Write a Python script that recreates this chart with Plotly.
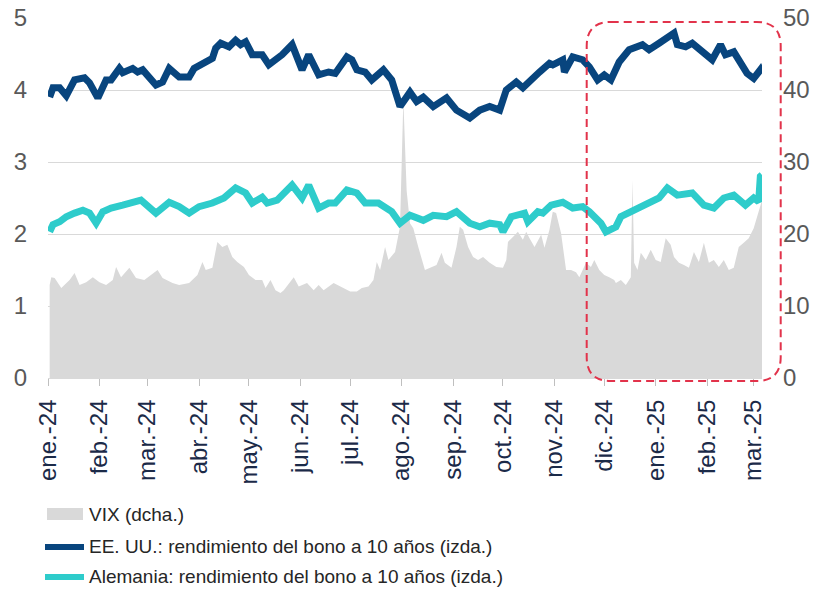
import plotly.graph_objects as go

# ---------------- data ----------------
us_dates = [
    "2024-01-02", "2024-01-04", "2024-01-08", "2024-01-12", "2024-01-17", "2024-01-23",
    "2024-01-26", "2024-01-31", "2024-02-05", "2024-02-08", "2024-02-13", "2024-02-15",
    "2024-02-21", "2024-02-24", "2024-02-27", "2024-03-06", "2024-03-10", "2024-03-14",
    "2024-03-20", "2024-03-26", "2024-03-29", "2024-04-03", "2024-04-09", "2024-04-11",
    "2024-04-14", "2024-04-19", "2024-04-23", "2024-04-26", "2024-04-29", "2024-05-03",
    "2024-05-09", "2024-05-13", "2024-05-17", "2024-05-21", "2024-05-27", "2024-06-02",
    "2024-06-06", "2024-06-12", "2024-06-18", "2024-06-22", "2024-06-29", "2024-07-02",
    "2024-07-05", "2024-07-10", "2024-07-14", "2024-07-18", "2024-07-21", "2024-07-26",
    "2024-07-31", "2024-08-06", "2024-08-10", "2024-08-14", "2024-08-20", "2024-08-28",
    "2024-09-03", "2024-09-11", "2024-09-17", "2024-09-23", "2024-09-29", "2024-10-03",
    "2024-10-09", "2024-10-13", "2024-10-19", "2024-10-23", "2024-10-29", "2024-10-31",
    "2024-11-06", "2024-11-07", "2024-11-12", "2024-11-18", "2024-11-22", "2024-11-27",
    "2024-12-01", "2024-12-05", "2024-12-10", "2024-12-16", "2024-12-24", "2024-12-28",
    "2025-01-03", "2025-01-08", "2025-01-12", "2025-01-14", "2025-01-19", "2025-01-23",
    "2025-01-29", "2025-02-04", "2025-02-09", "2025-02-12", "2025-02-17", "2025-02-21",
    "2025-02-25", "2025-03-01", "2025-03-05", "2025-03-06",
]
us_yield = [
    3.90, 4.03, 4.03, 3.92, 4.14, 4.17,
    4.10, 3.89, 4.14, 4.14, 4.30, 4.24,
    4.30, 4.25, 4.28, 4.07, 4.11, 4.30,
    4.18, 4.18, 4.30, 4.37, 4.44, 4.58,
    4.65, 4.60, 4.69, 4.63, 4.67, 4.49,
    4.49, 4.35, 4.42, 4.49, 4.63, 4.28,
    4.49, 4.21, 4.25, 4.23, 4.46, 4.42,
    4.28, 4.25, 4.14, 4.23, 4.28, 4.14,
    3.77, 3.97, 3.84, 3.90, 3.77, 3.89,
    3.72, 3.61, 3.72, 3.77, 3.72, 4.00,
    4.11, 4.03, 4.18, 4.25, 4.37, 4.35,
    4.42, 4.25, 4.46, 4.42, 4.32, 4.14,
    4.21, 4.14, 4.39, 4.56, 4.63, 4.56,
    4.65, 4.74, 4.79, 4.63, 4.60, 4.65,
    4.53, 4.42, 4.63, 4.49, 4.53, 4.39,
    4.23, 4.16, 4.28, 4.23,
]

de_dates = [
    "2024-01-02", "2024-01-04", "2024-01-08", "2024-01-12", "2024-01-17", "2024-01-22",
    "2024-01-26", "2024-01-30", "2024-02-03", "2024-02-08", "2024-02-15", "2024-02-20",
    "2024-02-26", "2024-03-06", "2024-03-14", "2024-03-20", "2024-03-26", "2024-04-01",
    "2024-04-09", "2024-04-16", "2024-04-23", "2024-04-29", "2024-05-03", "2024-05-09",
    "2024-05-12", "2024-05-18", "2024-05-21", "2024-05-27", "2024-06-02", "2024-06-06",
    "2024-06-12", "2024-06-18", "2024-06-22", "2024-06-29", "2024-07-05", "2024-07-10",
    "2024-07-18", "2024-07-26", "2024-07-31", "2024-08-06", "2024-08-14", "2024-08-20",
    "2024-08-28", "2024-09-03", "2024-09-11", "2024-09-17", "2024-09-23", "2024-09-29",
    "2024-10-01", "2024-10-06", "2024-10-14", "2024-10-16", "2024-10-22", "2024-10-25",
    "2024-10-30", "2024-11-06", "2024-11-12", "2024-11-18", "2024-11-22", "2024-11-29",
    "2024-12-02", "2024-12-08", "2024-12-11", "2024-12-19", "2024-12-25", "2024-12-30",
    "2025-01-03", "2025-01-08", "2025-01-14", "2025-01-23", "2025-01-30", "2025-02-05",
    "2025-02-11", "2025-02-17", "2025-02-24", "2025-03-01", "2025-03-04", "2025-03-05",
    "2025-03-06",
]
de_yield = [
    2.03, 2.13, 2.17, 2.24, 2.29, 2.33,
    2.29, 2.15, 2.31, 2.36, 2.40, 2.43,
    2.47, 2.29, 2.44, 2.38, 2.29, 2.38,
    2.43, 2.50, 2.64, 2.57, 2.43, 2.51,
    2.43, 2.47, 2.54, 2.68, 2.50, 2.68,
    2.36, 2.43, 2.43, 2.61, 2.57, 2.43,
    2.43, 2.31, 2.15, 2.26, 2.19, 2.26,
    2.24, 2.31, 2.15, 2.10, 2.15, 2.13,
    2.03, 2.24, 2.29, 2.17, 2.31, 2.29,
    2.40, 2.44, 2.36, 2.38, 2.31, 2.15,
    2.03, 2.10, 2.24, 2.33, 2.38, 2.44,
    2.50, 2.64, 2.54, 2.57, 2.40, 2.36,
    2.50, 2.54, 2.40, 2.50, 2.45, 2.80,
    2.82,
]

vix_dates = [
    "2024-01-02", "2024-01-03", "2024-01-05", "2024-01-08", "2024-01-09", "2024-01-14",
    "2024-01-17", "2024-01-20", "2024-01-24", "2024-01-28", "2024-02-01", "2024-02-05",
    "2024-02-09", "2024-02-11", "2024-02-14", "2024-02-19", "2024-02-23", "2024-02-28",
    "2024-03-03", "2024-03-07", "2024-03-10", "2024-03-16", "2024-03-20", "2024-03-26",
    "2024-03-31", "2024-04-03", "2024-04-05", "2024-04-09", "2024-04-12", "2024-04-15",
    "2024-04-18", "2024-04-21", "2024-04-24", "2024-04-28", "2024-05-01", "2024-05-05",
    "2024-05-09", "2024-05-11", "2024-05-14", "2024-05-17", "2024-05-20", "2024-05-22",
    "2024-05-28", "2024-05-31", "2024-06-05", "2024-06-09", "2024-06-12", "2024-06-15",
    "2024-06-21", "2024-06-25", "2024-07-01", "2024-07-05", "2024-07-08", "2024-07-12",
    "2024-07-15", "2024-07-17", "2024-07-19", "2024-07-22", "2024-07-24", "2024-07-28",
    "2024-07-31", "2024-08-02", "2024-08-04", "2024-08-06", "2024-08-08", "2024-08-11",
    "2024-08-15", "2024-08-22", "2024-08-25", "2024-08-27", "2024-08-31", "2024-09-03",
    "2024-09-05", "2024-09-07", "2024-09-10", "2024-09-13", "2024-09-16", "2024-09-19",
    "2024-09-23", "2024-09-27", "2024-10-01", "2024-10-03", "2024-10-04", "2024-10-07",
    "2024-10-10", "2024-10-13", "2024-10-15", "2024-10-17", "2024-10-20", "2024-10-24",
    "2024-10-26", "2024-10-29", "2024-10-31", "2024-11-02", "2024-11-05", "2024-11-08",
    "2024-11-11", "2024-11-14", "2024-11-16", "2024-11-18", "2024-11-20", "2024-11-23",
    "2024-11-25", "2024-11-28", "2024-12-01", "2024-12-04", "2024-12-07", "2024-12-08",
    "2024-12-11", "2024-12-14", "2024-12-17", "2024-12-18", "2024-12-19", "2024-12-21",
    "2024-12-23", "2024-12-26", "2024-12-29", "2025-01-01", "2025-01-04", "2025-01-07",
    "2025-01-10", "2025-01-12", "2025-01-15", "2025-01-18", "2025-01-21", "2025-01-24",
    "2025-01-27", "2025-01-30", "2025-02-02", "2025-02-05", "2025-02-08", "2025-02-11",
    "2025-02-14", "2025-02-17", "2025-02-20", "2025-02-23", "2025-02-26", "2025-03-01",
    "2025-03-03", "2025-03-05", "2025-03-06",
]
vix = [
    12.9, 14.0, 13.9, 12.9, 12.5, 13.6,
    14.6, 12.9, 13.3, 14.0, 13.3, 12.9,
    13.6, 15.4, 14.0, 15.3, 13.9, 13.6,
    14.3, 15.0, 13.9, 13.2, 12.9, 13.2,
    14.3, 16.1, 15.0, 15.3, 18.9, 18.2,
    18.5, 16.8, 16.1, 15.4, 14.3, 13.6,
    13.6, 12.5, 13.6, 12.2, 11.8, 12.2,
    14.0, 12.7, 13.2, 12.2, 12.9, 12.2,
    13.2, 12.7, 12.0, 12.0, 12.5, 12.7,
    13.6, 16.1, 15.0, 18.2, 16.4, 17.5,
    21.0, 38.6, 26.0, 21.5, 20.8, 18.2,
    15.0, 15.7, 17.4, 16.0, 15.3, 18.2,
    21.0, 20.6, 18.2, 16.8, 16.4, 16.8,
    16.0, 15.4, 15.3, 16.4, 18.9, 19.6,
    20.3, 19.2, 20.3, 19.4, 18.2, 19.9,
    18.1, 20.6, 23.1, 22.9, 20.1, 15.0,
    15.0, 14.7, 14.0, 15.0, 16.0, 15.4,
    16.4, 15.0, 14.3, 14.0, 13.6, 13.2,
    13.6, 12.9, 14.0, 27.5, 16.0, 15.0,
    17.4, 16.4, 17.8, 16.4, 16.1, 19.4,
    18.5, 16.8, 16.0, 15.7, 15.3, 17.5,
    16.1, 18.8, 16.0, 16.4, 15.4, 16.4,
    15.0, 15.3, 18.2, 18.8, 19.4, 20.8,
    22.4, 23.8, 24.7,
]

tick_dates = [
    "2024-01-01", "2024-02-01", "2024-03-01", "2024-04-01", "2024-05-01",
    "2024-06-01", "2024-07-01", "2024-08-01", "2024-09-01", "2024-10-01",
    "2024-11-01", "2024-12-01", "2025-01-01", "2025-02-01", "2025-03-01",
]
tick_labels = [
    "ene.-24", "feb.-24", "mar.-24", "abr.-24", "may.-24", "jun.-24", "jul.-24",
    "ago.-24", "sep.-24", "oct.-24", "nov.-24", "dic.-24", "ene.-25", "feb.-25",
    "mar.-25",
]

legend_names = [
    "VIX (dcha.)",
    "EE. UU.: rendimiento del bono a 10 años (izda.)",
    "Alemania: rendimiento del bono a 10 años (izda.)",
]

# ---------------- styling ----------------
FONT = "Liberation Sans, Arial, sans-serif"
VIX_COLOR = "#D9D9D9"
US_COLOR = "#08457E"
DE_COLOR = "#2ECCCB"
RED = "#E2334B"

W, H = 817, 591
ML, MR, MT, MB = 48, 55, 18, 213
PW, PH = W - ML - MR, H - MT - MB


def px_x(px):
    return (px - ML) / PW


def px_y(py):
    return (H - MB - py) / PH


fig = go.Figure()

fig.add_trace(go.Scatter(
    x=vix_dates, y=vix, yaxis="y", mode="lines", fill="tozeroy",
    fillcolor=VIX_COLOR, line=dict(width=0, color=VIX_COLOR),
    name=legend_names[0], showlegend=False, hoverinfo="x+y",
))
fig.add_trace(go.Scatter(
    x=us_dates, y=us_yield, yaxis="y2", mode="lines",
    line=dict(width=7, color=US_COLOR),
    name=legend_names[1], showlegend=False,
))
fig.add_trace(go.Scatter(
    x=de_dates, y=de_yield, yaxis="y2", mode="lines",
    line=dict(width=7, color=DE_COLOR),
    name=legend_names[2], showlegend=False,
))

fig.update_layout(
    width=W, height=H,
    margin=dict(l=ML, r=MR, t=MT, b=MB, pad=0, autoexpand=False),
    paper_bgcolor="white", plot_bgcolor="white",
    font=dict(family=FONT),
    showlegend=False,
    xaxis=dict(
        type="date", range=["2024-01-01", "2025-03-06"], automargin=False,
        tickmode="array", tickvals=tick_dates, ticktext=tick_labels,
        tickangle=-90, ticks="outside", ticklen=7, tickcolor="#BFBFBF",
        showline=True, linecolor="#D9D9D9", linewidth=1,
        showgrid=False, zeroline=False,
        tickfont=dict(family=FONT, size=24, color="#1B2A48"),
        ticklabelstandoff=4,
    ),
    yaxis=dict(
        side="right", range=[0, 50], tickmode="array", automargin=False,
        tickvals=[0, 10, 20, 30, 40, 50],
        showgrid=True, gridcolor="#D9D9D9", gridwidth=1, zeroline=False,
        showline=False, ticks="",
        tickfont=dict(family=FONT, size=24, color="#595959"),
        ticklabelstandoff=20,
    ),
    yaxis2=dict(
        side="left", overlaying="y", range=[0, 5], tickmode="array", automargin=False,
        tickvals=[0, 1, 2, 3, 4, 5],
        showgrid=False, zeroline=False, showline=False, ticks="",
        tickfont=dict(family=FONT, size=24, color="#595959"),
        ticklabelstandoff=20,
    ),
)

# red dashed rounded box highlighting the last months
x0, x1 = px_x(586.7), px_x(780.7)
yt, yb = px_y(22), px_y(381)
rx, ry = 24 / PW, 24 / PH
path = (
    f"M {x0 + rx},{yt} L {x1 - rx},{yt} Q {x1},{yt} {x1},{yt - ry} "
    f"L {x1},{yb + ry} Q {x1},{yb} {x1 - rx},{yb} "
    f"L {x0 + rx},{yb} Q {x0},{yb} {x0},{yb + ry} "
    f"L {x0},{yt - ry} Q {x0},{yt} {x0 + rx},{yt} Z"
)
fig.add_shape(type="path", path=path, xref="paper", yref="paper",
              line=dict(color=RED, width=2, dash="8px,5px"), layer="above")

# legend drawn below the plot
fig.add_shape(type="rect", xref="paper", yref="paper",
              x0=px_x(47), x1=px_x(83), y0=px_y(520), y1=px_y(508),
              fillcolor=VIX_COLOR, line=dict(width=0))
fig.add_shape(type="line", xref="paper", yref="paper",
              x0=px_x(45), x1=px_x(84), y0=px_y(547), y1=px_y(547),
              line=dict(color=US_COLOR, width=6))
fig.add_shape(type="line", xref="paper", yref="paper",
              x0=px_x(45), x1=px_x(84), y0=px_y(577), y1=px_y(577),
              line=dict(color=DE_COLOR, width=6))
for name, py in zip(legend_names, [514.5, 546, 576]):
    fig.add_annotation(text=name, xref="paper", yref="paper",
                       x=px_x(87), y=px_y(py), xanchor="left", yanchor="middle",
                       showarrow=False,
                       font=dict(family=FONT, size=19, color="#262626"))

fig.write_html(
    "out.html",
    config={"displayModeBar": False},
    post_script="document.body.style.margin='0px';document.body.style.overflow='hidden';",
)
